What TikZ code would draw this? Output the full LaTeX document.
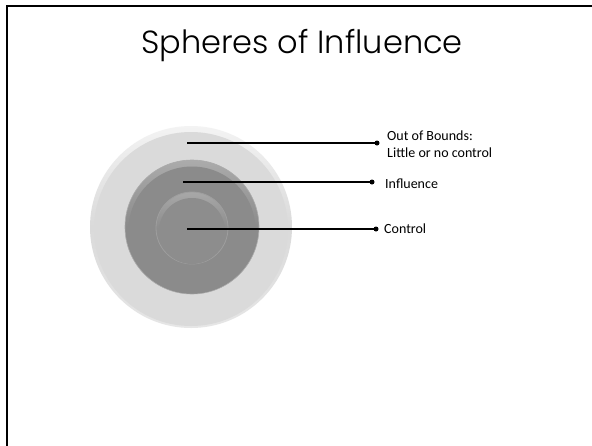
\documentclass[tikz,border=0pt]{standalone}
\usepackage{fontspec}
\setmainfont{Carlito}
\newfontfamily\titlefont{Poppins Light}
\definecolor{outbase}{HTML}{DADADA}
\definecolor{outhi}{HTML}{F3F3F3}
\definecolor{outlo}{HTML}{E6E6E6}
\definecolor{midbase}{HTML}{8B8B8B}
\definecolor{midhi}{HTML}{ABABAB}
\definecolor{inbase}{HTML}{8D8D8D}
\definecolor{inhi}{HTML}{A8A8A8}
\definecolor{inedge}{HTML}{9E9E9E}
\begin{document}
\begin{tikzpicture}[x=1pt,y=-1pt,
  disk/.style={circle, inner sep=0pt, minimum size=#1},
  lead/.style={line width=1.4pt, black},
  dotmark/.style={circle, fill=black, inner sep=0pt, minimum size=5pt},
  lbl/.style={anchor=west, font=\fontsize{14}{17}\selectfont, align=left, inner sep=0pt}]
\useasboundingbox (0,0) rectangle (592,445);
\fill[white] (0,0) rectangle (592,445);
\draw[line width=2pt] (7,446) -- (7,6) -- (593,6);
\node[font=\titlefont\fontsize{32}{34}\selectfont] (title) at (302,46) {Spheres of Influence};
% circles
\node[disk=202pt, top color=outhi, bottom color=outlo, middle color=outbase] (outer) at (191,227) {};
\node[disk=194pt, fill=outbase] (outerface) at (191,229) {};
\node[disk=134pt, top color=midhi, bottom color=midbase, middle color=midbase, draw=midhi, line width=0.6pt] (mid) at (192,227) {};
\node[disk=127pt, fill=midbase] (midface) at (192,230) {};
\node[disk=72pt, top color=inhi, bottom color=inbase, middle color=inbase, draw=inedge, line width=0.8pt] (inner) at (192,228) {};
\node[disk=66pt, fill=inbase] (innerface) at (192,231) {};
% leader points
\coordinate (p1) at (187,143);
\coordinate (p2) at (183,182);
\coordinate (p3) at (187,229);
\node[dotmark] (d1) at (377,143) {};
\node[dotmark] (d2) at (372,182) {};
\node[dotmark] (d3) at (376,229) {};
\draw[lead] (p1) -- (d1.center);
\draw[lead] (p2) -- (d2.center);
\draw[lead] (p3) -- (d3.center);
\node[lbl] (l1) at (387,144) {Out of Bounds:\\Little or no control};
\node[lbl] (l2) at (385,184) {Influence};
\node[lbl] (l3) at (384,229) {Control};
\end{tikzpicture}
\end{document}
